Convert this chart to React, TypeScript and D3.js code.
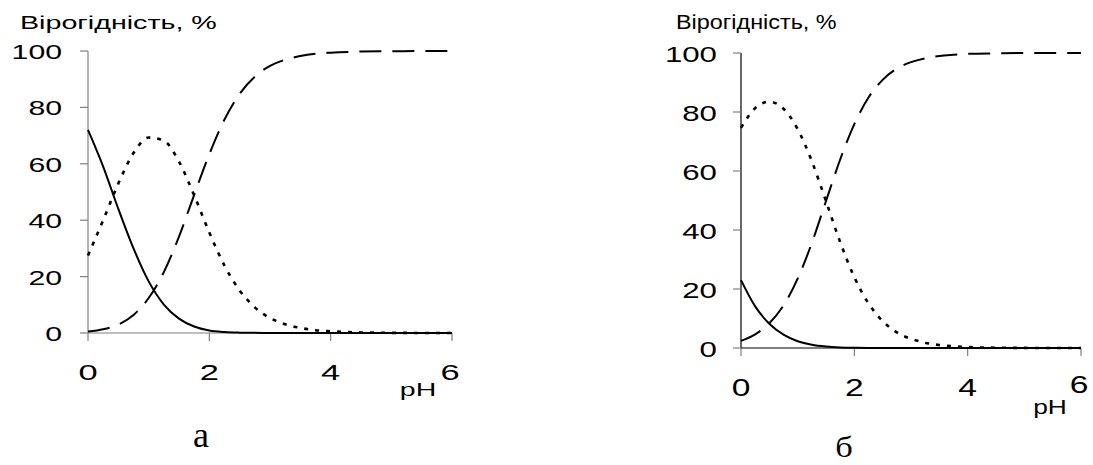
import React from 'react';
import * as d3 from 'd3';

// pH grid shared by both panels
const phValues = [0, 0.25, 0.5, 0.75, 1, 1.25, 1.5, 1.75, 2, 2.25, 2.5, 2.75, 3, 3.25, 3.5, 3.75, 4, 4.5, 5, 5.5, 6];

// panel "а"
const solidA = [72, 59, 44, 30, 18.3, 10.1, 5.1, 2.3, 0.9, 0.35, 0.13, 0.05, 0.02, 0, 0, 0, 0, 0, 0, 0, 0];
const dottedA = [27.5, 40, 53, 63.8, 69.3, 68.2, 60.8, 48.8, 35.6, 23.9, 15.1, 9.1, 5.3, 3.1, 1.8, 1, 0.6, 0.2, 0.06, 0.02, 0];
const dashedA = [0.5, 1.3, 3, 6.4, 12.4, 21.6, 34.2, 49, 63.4, 75.7, 84.8, 90.9, 94.7, 96.9, 98.2, 99, 99.4, 99.8, 99.9, 100, 100];

// panel "б"
const solidB = [23, 14.1, 8.2, 4.5, 2.3, 1.1, 0.5, 0.2, 0.08, 0.03, 0.01, 0, 0, 0, 0, 0, 0, 0, 0, 0, 0];
const dottedB = [74.6, 81.3, 83.5, 81.1, 74.2, 63.3, 49.8, 35.9, 24, 15.1, 9.1, 5.3, 3.1, 1.8, 1, 0.6, 0.3, 0.1, 0.03, 0.01, 0];
const dashedB = [2.4, 4.6, 8.4, 14.4, 23.5, 35.6, 49.8, 63.9, 75.9, 84.9, 90.9, 94.7, 96.9, 98.2, 99, 99.4, 99.7, 99.9, 100, 100, 100];

const xTicks = [0, 2, 4];
const yTicks = [0, 20, 40, 60, 80, 100];
const yTitle = 'Вірогідність, %';
const xTitle = 'pH';

const sans = 'Liberation Sans, Arial, sans-serif';
const serif = 'Liberation Serif, Times New Roman, serif';

// stretched text: the original picture is widened horizontally
function T({ x, y, size, sx = 1, anchor = 'start', family = sans, children }: any) {
  return (
    <text transform={`translate(${x},${y}) scale(${sx},1)`} textAnchor={anchor}
      fontFamily={family} fontSize={size}>{children}</text>
  );
}

type PanelProps = {
  x0: number; x1: number; y0: number; y1: number;
  axisColor: string;
  solid: number[]; dotted: number[]; dashed: number[];
  title: { x: number; size: number; sx: number };
  yLab: { gap: number; size: number; sx: number; dy: number };
  xLab: { base: number; size: number; sx: number; six: number };
  ph: { x: number; base: number; size: number; sx: number };
  cap: { text: string; x: number; base: number; size: number; sx: number };
};

function Panel(p: PanelProps) {
  const x = d3.scaleLinear().domain([0, 6]).range([p.x0, p.x1]);
  const y = d3.scaleLinear().domain([0, 100]).range([p.y0, p.y1]);
  const line = (vals: number[]) =>
    d3.line<number>().x((_, i) => x(phValues[i])).y(d => y(d)).curve(d3.curveMonotoneX)(vals) || '';
  const tickColor = '#808080';

  return (
    <g>
      <T x={p.title.x} y={29} size={p.title.size} sx={p.title.sx}>{yTitle}</T>

      {/* y axis */}
      <line x1={x(0)} x2={x(0)} y1={y(0)} y2={y(100)} stroke={p.axisColor} strokeWidth={1.2} />
      {yTicks.map(t => (
        <g key={t}>
          <line x1={x(0) - 8} x2={x(0)} y1={y(t)} y2={y(t)} stroke={tickColor} strokeWidth={1.2} />
          <T x={x(0) - p.yLab.gap} y={y(t) + p.yLab.dy} size={p.yLab.size} sx={p.yLab.sx} anchor="end">{t}</T>
        </g>
      ))}

      {/* x axis */}
      <line x1={x(0)} x2={x(6)} y1={y(0)} y2={y(0)} stroke={p.axisColor} strokeWidth={1.2} />
      {[...xTicks, 6].map(t => (
        <line key={t} x1={x(t)} x2={x(t)} y1={y(0)} y2={y(0) + 8} stroke={tickColor} strokeWidth={1.2} />
      ))}
      {xTicks.map(t => (
        <T key={t} x={x(t)} y={p.xLab.base} size={p.xLab.size} sx={p.xLab.sx} anchor="middle">{t}</T>
      ))}
      <T x={x(6) - 2} y={p.xLab.six} size={p.xLab.size} sx={p.xLab.sx} anchor="middle">6</T>
      <T x={p.ph.x} y={p.ph.base} size={p.ph.size} sx={p.ph.sx} anchor="middle">{xTitle}</T>

      {/* curves */}
      <path d={line(p.dashed)} fill="none" stroke="#000" strokeWidth={2} strokeDasharray="22,11" />
      <path d={line(p.dotted)} fill="none" stroke="#000" strokeWidth={2.6} strokeDasharray="4,7" />
      <path d={line(p.solid)} fill="none" stroke="#000" strokeWidth={2} />

      <T x={p.cap.x} y={p.cap.base} size={p.cap.size} sx={p.cap.sx} anchor="middle" family={serif}>{p.cap.text}</T>
    </g>
  );
}

export default function App() {
  return (
    <svg width={1093} height={465} style={{ position: 'absolute', left: 0, top: 0, background: '#fff' }}>
      <rect width={1093} height={465} fill="#fff" />
      <Panel x0={88} x1={452} y0={333} y1={51} axisColor="#808080"
        solid={solidA} dotted={dottedA} dashed={dashedA}
        title={{ x: 20, size: 18.5, sx: 1.55 }}
        yLab={{ gap: 26, size: 19.5, sx: 1.55, dy: 8 }}
        xLab={{ base: 380, size: 23, sx: 1.5, six: 380 }}
        ph={{ x: 418, base: 396, size: 19, sx: 1.5 }}
        cap={{ text: 'а', x: 201, base: 447, size: 36, sx: 1 }} />
      <Panel x0={741} x1={1081} y0={348} y1={53} axisColor="#000"
        solid={solidB} dotted={dottedB} dashed={dashedB}
        title={{ x: 676, size: 19.5, sx: 1.2 }}
        yLab={{ gap: 24, size: 22, sx: 1.42, dy: 9 }}
        xLab={{ base: 396, size: 24, sx: 1.4, six: 393 }}
        ph={{ x: 1050, base: 414, size: 19.5, sx: 1.35 }}
        cap={{ text: 'б', x: 844, base: 457, size: 30, sx: 1.15 }} />
    </svg>
  );
}
